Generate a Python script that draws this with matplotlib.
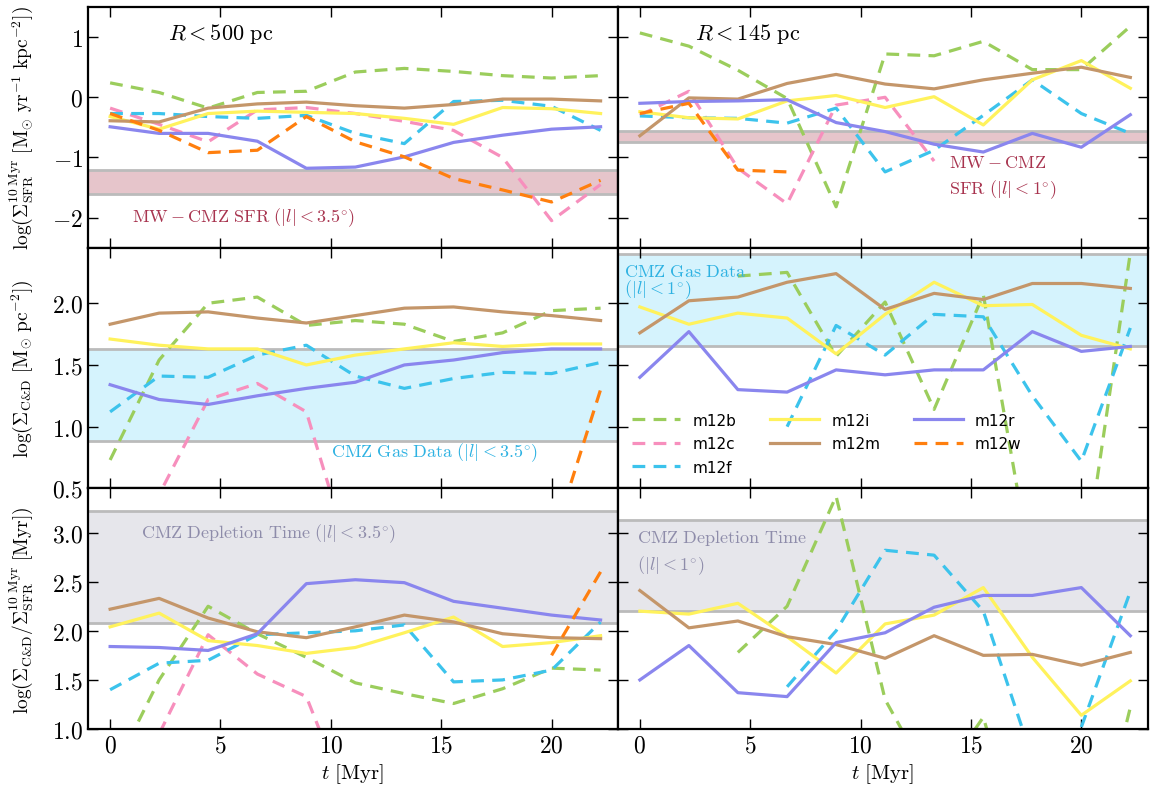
import numpy as np
import matplotlib
matplotlib.use("Agg")
import matplotlib.pyplot as plt

nan = np.nan

# time of each snapshot [Myr]
t = [0, 2.22, 4.44, 6.67, 8.89, 11.11, 13.33, 15.56, 17.78, 20.0, 22.22]

sims = ['m12b', 'm12c', 'm12f', 'm12i', 'm12m', 'm12r', 'm12w']
colors = ['#9bcd5c', '#f78fbd', '#3cc3ec', '#fff25c', '#c4966a', '#8a86ee', '#ff7f0e']
dashed = [True, True, True, False, False, False, True]

# log SFR surface density, R < 500 pc
sfr_500 = {
    'm12b': [0.24, 0.08, -0.18, 0.08, 0.1, 0.42, 0.48, 0.43, 0.36, 0.32, 0.36],
    'm12c': [-0.18, -0.45, -0.74, -0.21, -0.17, -0.27, -0.4, -0.55, -1.0, -2.05, -1.45],
    'm12f': [-0.27, -0.27, -0.32, -0.35, -0.3, -0.6, -0.77, -0.07, -0.05, -0.15, -0.55],
    'm12i': [-0.32, -0.53, -0.27, -0.23, -0.25, -0.27, -0.35, -0.45, -0.17, -0.19, -0.27],
    'm12m': [-0.39, -0.41, -0.18, -0.11, -0.08, -0.14, -0.18, -0.12, -0.03, -0.03, -0.06],
    'm12r': [-0.49, -0.6, -0.6, -0.73, -1.18, -1.16, -0.99, -0.75, -0.63, -0.53, -0.49],
    'm12w': [-0.27, -0.55, -0.92, -0.88, -0.32, -0.74, -0.99, -1.35, -1.54, -1.74, -1.38],
}
# log SFR surface density, R < 145 pc
sfr_145 = {
    'm12b': [1.07, 0.85, 0.45, -0.02, -1.82, 0.72, 0.69, 0.93, 0.46, 0.46, 1.18],
    'm12c': [-0.3, 0.1, -1.18, -1.77, -0.13, 0.0, -1.06, nan, nan, nan, nan],
    'm12f': [-0.31, -0.34, -0.35, -0.43, -0.18, -1.24, -0.88, -0.3, 0.29, -0.27, -0.6],
    'm12i': [-0.24, -0.34, -0.36, -0.06, 0.03, -0.17, 0.01, -0.46, 0.29, 0.61, 0.15],
    'm12m': [-0.64, -0.01, -0.03, 0.23, 0.38, 0.22, 0.14, 0.29, 0.4, 0.5, 0.33],
    'm12r': [-0.1, -0.07, -0.06, -0.04, -0.42, -0.57, -0.78, -0.91, -0.6, -0.83, -0.29],
    'm12w': [-0.27, -0.1, -1.21, -1.24, nan, nan, nan, nan, nan, nan, nan],
}
# log gas surface density
gas_500 = {
    'm12b': [0.73, 1.54, 2.0, 2.05, 1.82, 1.86, 1.83, 1.69, 1.76, 1.94, 1.96],
    'm12c': [0.0, 0.45, 1.22, 1.35, 1.12, -0.2, nan, nan, nan, nan, nan],
    'm12f': [1.12, 1.41, 1.4, 1.58, 1.66, 1.41, 1.31, 1.39, 1.44, 1.43, 1.52],
    'm12i': [1.71, 1.66, 1.63, 1.63, 1.5, 1.58, 1.63, 1.68, 1.65, 1.67, 1.67],
    'm12m': [1.83, 1.92, 1.93, 1.88, 1.84, 1.9, 1.96, 1.97, 1.93, 1.9, 1.86],
    'm12r': [1.34, 1.22, 1.18, 1.25, 1.31, 1.36, 1.5, 1.54, 1.6, 1.63, 1.63],
    'm12w': [nan, nan, nan, nan, nan, nan, nan, nan, -0.5, 0.05, 1.3],
}
gas_145 = {
    'm12b': [nan, nan, 2.22, 2.25, 1.57, 2.01, 1.14, 2.07, -0.2, -0.3, 2.41],
    'm12c': [nan] * 11,
    'm12f': [nan, nan, nan, 1.0, 1.82, 1.58, 1.91, 1.89, 1.25, 0.72, 1.8],
    'm12i': [1.97, 1.83, 1.92, 1.88, 1.59, 1.91, 2.17, 1.98, 1.99, 1.74, 1.63],
    'm12m': [1.76, 2.02, 2.05, 2.17, 2.24, 1.95, 2.08, 2.03, 2.16, 2.16, 2.12],
    'm12r': [1.4, 1.77, 1.3, 1.28, 1.46, 1.42, 1.46, 1.46, 1.77, 1.61, 1.65],
    'm12w': [nan] * 11,
}
# log depletion time [Myr]
dep_500 = {
    'm12b': [0.5, 1.5, 2.25, 1.97, 1.73, 1.47, 1.36, 1.26, 1.41, 1.62, 1.6],
    'm12c': [0.18, 0.95, 1.96, 1.56, 1.33, 0.07, nan, nan, nan, nan, nan],
    'm12f': [1.4, 1.67, 1.7, 1.96, 1.98, 2.0, 2.06, 1.48, 1.5, 1.6, 2.09],
    'm12i': [2.04, 2.18, 1.9, 1.85, 1.77, 1.83, 1.98, 2.14, 1.84, 1.88, 1.95],
    'm12m': [2.22, 2.33, 2.13, 1.99, 1.93, 2.04, 2.16, 2.09, 1.97, 1.93, 1.92],
    'm12r': [1.84, 1.83, 1.8, 1.97, 2.48, 2.52, 2.49, 2.3, 2.23, 2.16, 2.11],
    'm12w': [nan, nan, nan, nan, nan, nan, nan, nan, nan, 1.75, 2.6],
}
dep_145 = {
    'm12b': [nan, nan, 1.78, 2.25, 3.37, 1.3, 0.4, 1.12, -0.6, -0.8, 1.22],
    'm12c': [nan] * 11,
    'm12f': [nan, nan, nan, 1.43, 2.0, 2.82, 2.77, 2.2, 0.7, 1.02, 2.4],
    'm12i': [2.2, 2.17, 2.28, 1.94, 1.57, 2.07, 2.16, 2.44, 1.73, 1.14, 1.49],
    'm12m': [2.41, 2.03, 2.1, 1.94, 1.86, 1.72, 1.95, 1.75, 1.76, 1.65, 1.78],
    'm12r': [1.5, 1.85, 1.37, 1.33, 1.88, 1.98, 2.24, 2.36, 2.36, 2.44, 1.95],
    'm12w': [nan] * 11,
}

# Milky Way CMZ observational ranges (low, high)
sfr_band = [[-1.6, -1.21], [-0.75, -0.56]]
gas_band = [[0.88, 1.63], [1.65, 2.4]]
dep_band = [[2.08, 3.22], [2.2, 3.13]]

plt.rcParams['font.family'] = 'serif'
plt.rcParams['font.serif'] = ['cmr10']
plt.rcParams['mathtext.fontset'] = 'cm'
plt.rcParams['axes.formatter.use_mathtext'] = True

fig, axes = plt.subplots(3, 2, figsize=(11.51, 8.04), dpi=100, sharex=True, sharey='row')
fig.subplots_adjust(left=0.0765, right=0.997, top=0.99, bottom=0.092, hspace=0, wspace=0)

panels = [[sfr_500, sfr_145], [gas_500, gas_145], [dep_500, dep_145]]
bands = [sfr_band, gas_band, dep_band]
band_colors = ['#e6c5cb', '#d5f3fd', '#e6e6eb']
ylims = [(-2.5, 1.5), (0.5, 2.45), (1.0, 3.45)]

for r in range(3):
    for c in range(2):
        ax = axes[r, c]
        lo, hi = bands[r][c]
        ax.axhspan(lo, hi, color=band_colors[r], lw=0, zorder=0)
        ax.axhline(lo, color='#bbbbbb', lw=2, zorder=1)
        ax.axhline(hi, color='#bbbbbb', lw=2, zorder=1)
        data = panels[r][c]
        for s, col, d in zip(sims, colors, dashed):
            if d:
                ax.plot(t, data[s], color=col, lw=2.3, dashes=(4, 2.6), label=s, zorder=2)
            else:
                ax.plot(t, data[s], color=col, lw=2.3, label=s, zorder=2)
        ax.set_ylim(ylims[r])
        ax.set_xlim(-1, 23)
        ax.set_xticks([0, 5, 10, 15, 20])
        ax.tick_params(direction='in', top=True, right=True, length=7, width=1, labelsize=17)
        for sp in ax.spines.values():
            sp.set_linewidth(1.6)

axes[0, 0].set_yticks([-2, -1, 0, 1])
axes[1, 0].set_yticks([0.5, 1.0, 1.5, 2.0])
axes[2, 0].set_yticks([1.0, 1.5, 2.0, 2.5, 3.0])

axes[0, 0].set_ylabel(r'$\log(\Sigma_{\rm SFR}^{\rm 10\ Myr}\ [{\rm M_{\odot}\ yr^{-1}\ kpc^{-2}}])$', fontsize=14)
axes[1, 0].set_ylabel(r'$\log(\Sigma_{\rm C&D}\ [{\rm M_{\odot}\ pc^{-2}}])$', fontsize=14)
axes[2, 0].set_ylabel(r'$\log(\Sigma_{\rm C&D}/\Sigma_{\rm SFR}^{\rm 10\ Myr}\ [{\rm Myr}])$', fontsize=14)
for ax in axes[:, 0]:
    ax.yaxis.set_label_coords(-0.1, 0.5)
axes[2, 0].set_xlabel(r'$t\ [{\rm Myr}]$', fontsize=15)
axes[2, 1].set_xlabel(r'$t\ [{\rm Myr}]$', fontsize=15)

sfr_c = '#a8344f'
gas_c = '#2eb2e2'
dep_c = '#8e8caa'
axes[0, 0].text(2.6, 1.07, r'$R < 500\ {\rm pc}$', fontsize=16, va='center')
axes[0, 1].text(2.5, 1.07, r'$R < 145\ {\rm pc}$', fontsize=16, va='center')
axes[0, 0].text(1.0, -1.98, r'${\rm MW-CMZ\ SFR}\ (|l|<3.5^{\circ})$', color=sfr_c, fontsize=13, va='center')
axes[0, 1].text(14.0, -1.07, r'${\rm MW-CMZ}$', color=sfr_c, fontsize=13, va='center')
axes[0, 1].text(14.0, -1.52, r'${\rm SFR}\ (|l|<1^{\circ})$', color=sfr_c, fontsize=13, va='center')
axes[1, 0].text(10.0, 0.8, r'${\rm CMZ\ Gas\ Data}\ (|l|<3.5^{\circ})$', color=gas_c, fontsize=13, va='center')
axes[1, 1].text(-0.7, 2.26, r'${\rm CMZ\ Gas\ Data}$', color=gas_c, fontsize=13, va='center')
axes[1, 1].text(-0.7, 2.12, r'$(|l|<1^{\circ})$', color=gas_c, fontsize=13, va='center')
axes[2, 0].text(1.4, 3.0, r'${\rm CMZ\ Depletion\ Time}\ (|l|<3.5^{\circ})$', color=dep_c, fontsize=13, va='center')
axes[2, 1].text(-0.15, 2.95, r'${\rm CMZ\ Depletion\ Time}$', color=dep_c, fontsize=13, va='center')
axes[2, 1].text(-0.15, 2.67, r'$(|l|<1^{\circ})$', color=dep_c, fontsize=13, va='center')

axes[1, 1].legend(loc='lower left', bbox_to_anchor=(0.0, 0.0), ncol=3, frameon=False,
                  prop={'family': 'DejaVu Sans', 'size': 11}, handlelength=3.2,
                  columnspacing=2.2, labelspacing=0.55)

fig.savefig('out.png', dpi=100)
